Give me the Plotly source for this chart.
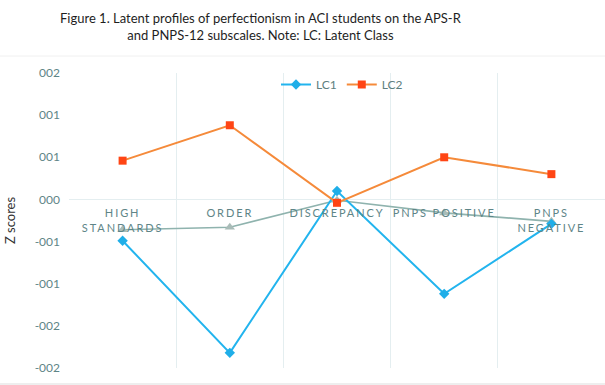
import plotly.graph_objects as go

categories = ["HIGH<br>STANDARDS", "ORDER", "DISCREPANCY", "PNPS POSITIVE", "PNPS<br>NEGATIVE"]
lc1 = [-0.49, -1.82, 0.10, -1.12, -0.29]
lc2 = [0.46, 0.88, -0.04, 0.50, 0.30]
lc3 = [-0.36, -0.33, -0.01, -0.16, -0.26]

y_tickvals = [-2, -1.5, -1, -0.5, 0, 0.5, 1, 1.5]
y_ticktext = ["-002", "-002", "-001", "-001", "000", "001", "001", "002"]

title_text = ("Figure 1. Latent profiles of perfectionism in ACI students on the APS-R"
              "<br>and PNPS-12 subscales. Note: LC: Latent Class")

# plot area: x 69..605, y 73..368 (pixels)
def py(p):
    return (368 - p) / 295.0

def px(p):
    return (p - 69) / 536.0

fig = go.Figure()
fig.add_trace(go.Scatter(
    x=categories, y=lc3, mode="lines+markers", name="LC3", showlegend=False,
    line=dict(color="#8fb3ae", width=1.6),
    marker=dict(symbol="triangle-up", size=9, color="#a9bcb8"),
))
fig.add_trace(go.Scatter(
    x=categories, y=lc1, mode="lines+markers", name="LC1",
    line=dict(color="#22b4ee", width=2),
    marker=dict(symbol="diamond", size=8, color="#1faee8"),
))
fig.add_trace(go.Scatter(
    x=categories, y=lc2, mode="lines+markers", name="LC2",
    line=dict(color="#f58a3a", width=2),
    marker=dict(symbol="square", size=8, color="#ff4514"),
))

fig.update_layout(
    width=605, height=385,
    margin=dict(l=69, r=0, t=73, b=17),
    paper_bgcolor="white", plot_bgcolor="white",
    font=dict(family="Lato, Noto Sans, sans-serif"),
    legend=dict(orientation="h", x=px(276), xanchor="left", y=py(70), yanchor="top",
                font=dict(size=12, color="#5e7f80"), bgcolor="rgba(0,0,0,0)", itemwidth=30),
    xaxis=dict(
        type="category", range=[-0.5, 4.5], tickson="boundaries",
        showgrid=True, gridcolor="#e4eef0", gridwidth=1,
        showline=False, ticks="", anchor="free", position=2 / 3.5,
        ticklabelstandoff=6,
        tickfont=dict(family="Lato, sans-serif", size=11, color="#5e8587"),
    ),
    yaxis=dict(
        range=[-2, 1.5], tickvals=y_tickvals, ticktext=y_ticktext,
        showgrid=False, zeroline=True, zerolinecolor="#e4eef0", zerolinewidth=1,
        showline=False, ticks="", ticklabelstandoff=8,
        tickfont=dict(family="Lato, sans-serif", size=12, color="#5e8587"),
        title=dict(text="Z scores", font=dict(family="Lato, sans-serif", size=13, color="#333333"), standoff=16),
    ),
    annotations=[
        dict(text=title_text, xref="paper", yref="paper", x=px(261), y=py(8),
             xanchor="center", yanchor="top", showarrow=False, align="center",
             font=dict(family="Lato, sans-serif", size=13, color="#1e1e1e")),
    ],
    shapes=[
        dict(type="line", xref="paper", yref="paper", x0=px(0), x1=px(605), y0=py(56), y1=py(56),
             line=dict(color="#f0f0f0", width=1)),
        dict(type="line", xref="paper", yref="paper", x0=px(0), x1=px(605), y0=py(384), y1=py(384),
             line=dict(color="#dddddd", width=1)),
    ],
)

post = ("document.body.style.margin='0px';document.body.style.overflow='hidden';"
        "document.querySelectorAll('.xtick text').forEach(function(t){"
        "t.style.letterSpacing='1.9px';});")

fig.write_html("out.html", post_script=post, config={"displayModeBar": False})
